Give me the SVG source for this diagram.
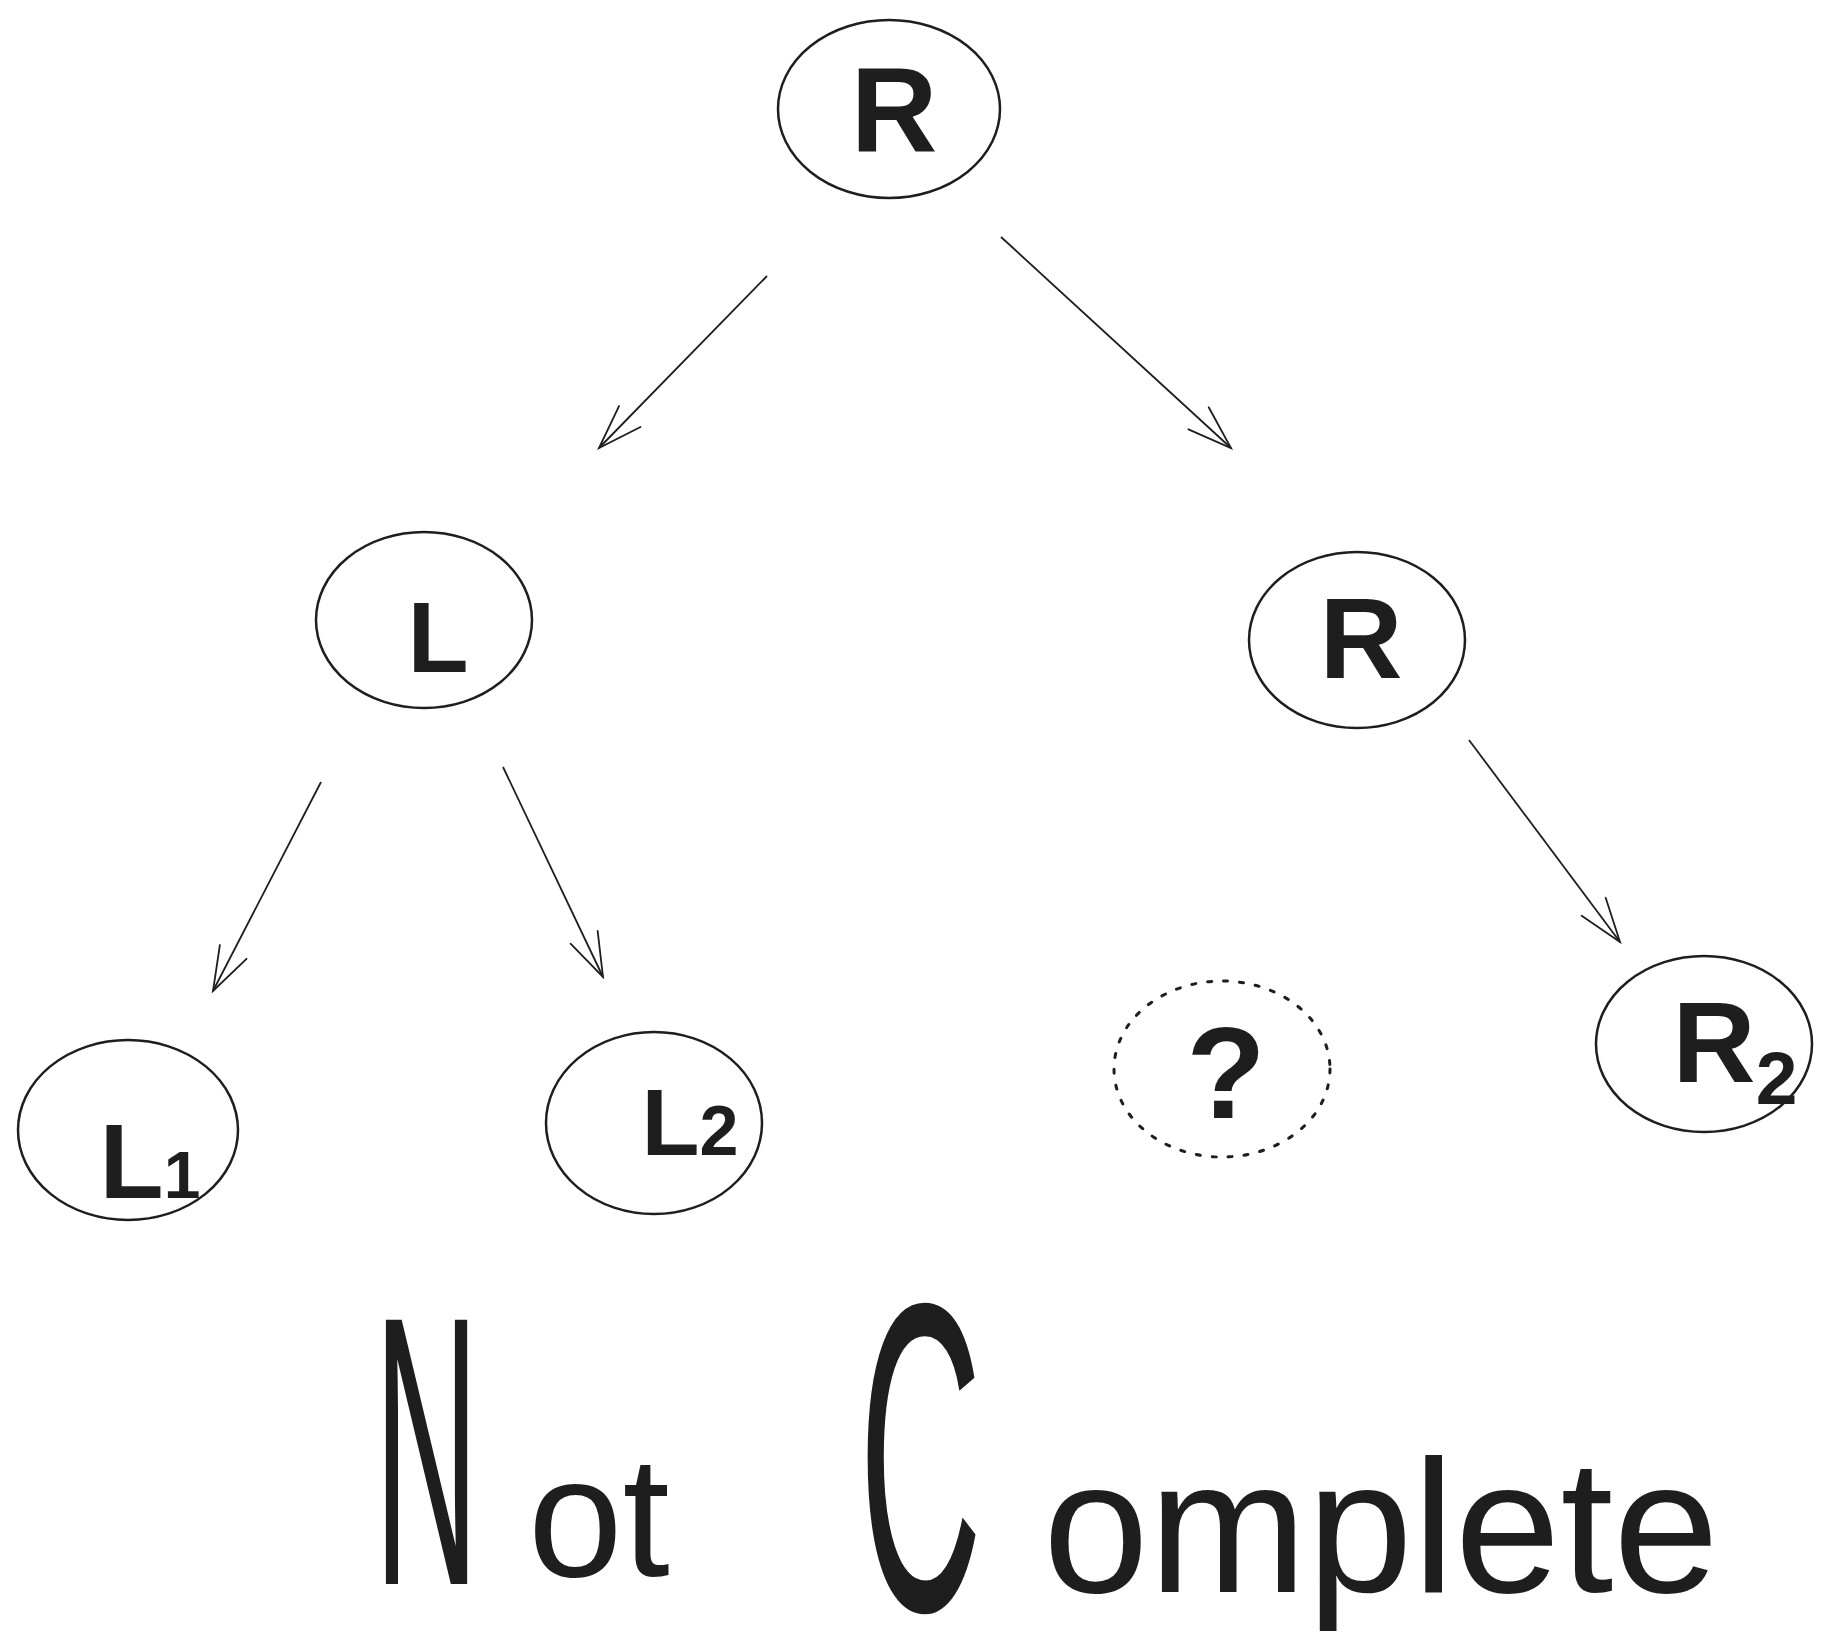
<svg xmlns="http://www.w3.org/2000/svg" width="1833" height="1640" viewBox="0 0 1833 1640">
<style>
.node{fill:none;stroke:#1e1e1e;stroke-width:2.5}
.dotted{fill:none;stroke:#1e1e1e;stroke-width:3;stroke-dasharray:4 12;stroke-linecap:round}
.lbl{font-family:"Liberation Sans",Arial,sans-serif;font-weight:bold;fill:#1e1e1e;text-anchor:middle}
.hand{font-family:"Liberation Sans",Arial,sans-serif;fill:#1e1e1e}
.edge{fill:none;stroke:#1e1e1e;stroke-width:1.8;marker-end:url(#arr)}
</style>
<defs>
<marker id="arr" markerUnits="userSpaceOnUse" markerWidth="60" markerHeight="60" viewBox="-50 -30 60 60" refX="0" refY="0" orient="auto">
<path d="M-44,-15 L0,0 L-44,15" fill="none" stroke="#1e1e1e" stroke-width="1.8" stroke-linecap="round"/>
</marker>
</defs>
<rect width="1833" height="1640" fill="#ffffff"/>
<g id="connectors">
<path class="edge" d="M767,276 L599,448"/>
<path class="edge" d="M1001,237 L1231,448"/>
<path class="edge" d="M321,782 L213,991"/>
<path class="edge" d="M503,767 L603,977"/>
<path class="edge" d="M1469,740 L1620,942"/>
</g>
<g id="node-root">
<ellipse class="node" cx="889" cy="109" rx="111" ry="89"/>
<text class="lbl" x="894" y="152" font-size="120">R</text>
</g>
<g id="node-L">
<ellipse class="node" cx="424" cy="620" rx="108" ry="88"/>
<text class="lbl" x="438" y="672" font-size="100">L</text>
</g>
<g id="node-R">
<ellipse class="node" cx="1357" cy="640" rx="108" ry="88"/>
<text class="lbl" x="1361" y="678" font-size="115">R</text>
</g>
<g id="node-L1">
<ellipse class="node" cx="128" cy="1130" rx="110" ry="90"/>
<text class="lbl" x="150" y="1198" font-size="105">L<tspan font-size="66">1</tspan></text>
</g>
<g id="node-L2">
<ellipse class="node" cx="654" cy="1123" rx="108" ry="91"/>
<text class="lbl" x="690" y="1155" font-size="95">L<tspan font-size="70">2</tspan></text>
</g>
<g id="node-q">
<ellipse class="dotted" cx="1222" cy="1069" rx="108" ry="88"/>
<text class="lbl" x="1226" y="1118" font-size="130">?</text>
</g>
<g id="node-R2">
<ellipse class="node" cx="1704" cy="1044" rx="108" ry="88"/>
<text class="lbl" x="1735" y="1082" font-size="115">R<tspan font-size="75" dy="22">2</tspan></text>
</g>
<g id="caption">
<text class="hand" x="374" y="1584"><tspan font-size="384" textLength="105" lengthAdjust="spacingAndGlyphs">N</tspan><tspan x="528" y="1576" font-size="170">ot</tspan></text>
<text class="hand" x="859" y="1610"><tspan font-size="440" textLength="123" lengthAdjust="spacingAndGlyphs">C</tspan><tspan x="1043" y="1592" font-size="190">omplete</tspan></text>
</g>
</svg>
